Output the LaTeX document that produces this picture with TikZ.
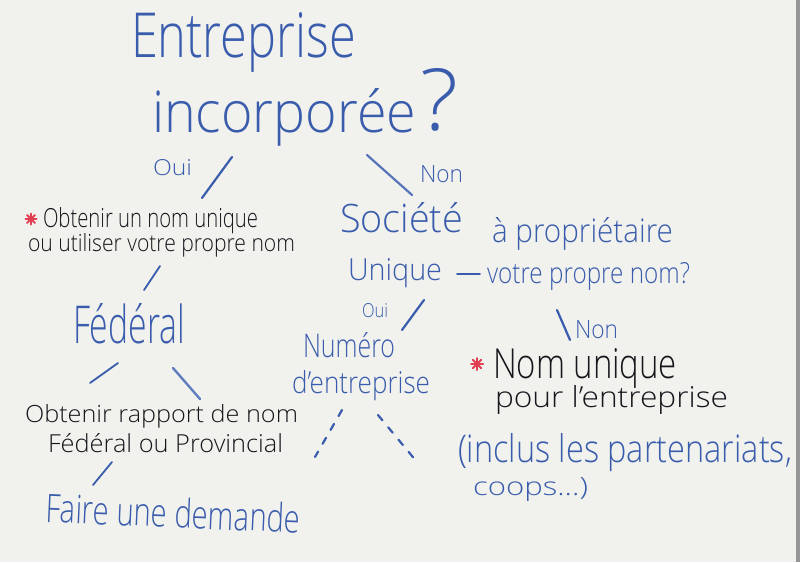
\documentclass[tikz,border=0pt]{standalone}
\usepackage{graphicx}
\usepackage{fontspec}
\IfFontExistsTF{Open Sans Light}{\setmainfont{Open Sans Light}}{\setmainfont{Open Sans}}
\definecolor{board}{RGB}{241,242,238}
\definecolor{frame}{RGB}{150,150,150}
\definecolor{inkblue}{RGB}{58,92,172}
\definecolor{inkblack}{RGB}{22,22,28}
\definecolor{inkred}{RGB}{226,62,82}
% \fitto{width}{height above baseline}{text}
\newcommand\fitto[3]{\resizebox{#1pt}{#2pt}{#3}}
\tikzset{
  handtext/.style={anchor=base west, inner sep=0pt, outer sep=0pt},
  bluetext/.style={handtext, text=inkblue},
  blacktext/.style={handtext, text=inkblack},
  stroke/.style={draw=inkblue, line width=2.2pt, line cap=round},
  dotted stroke/.style={stroke, dash pattern=on 7pt off 9pt},
  starmark/.style={draw=inkred, line width=2pt, line cap=round}
}
\begin{document}
\begin{tikzpicture}[x=1pt,y=-1pt]
  % board
  \fill[board] (0,0) rectangle (800,562);
  \fill[frame] (796,0) rectangle (800,562);
  \useasboundingbox (0,0) rectangle (800,562);

  % question at the top
  \node[bluetext] (q1) at (131,57) {\fitto{225}{45}{Entreprise}};
  \node[bluetext] (q2) at (152,132) {\fitto{264}{44}{incorporée}};
  \node[bluetext] (q2mark) at (420,130) {\fitto{38}{62}{?}};

  % yes branch
  \coordinate (c1a) at (232,157); \coordinate (c1b) at (202,198);
  \draw[stroke] (c1a) -- (c1b);
  \node[bluetext] (oui1) at (153,175) {\fitto{39}{16}{Oui}};

  \coordinate (ast1) at (31,219);
  \foreach \a in {0,45,90,135} \draw[starmark,shift={(ast1)}] (\a:5.5) -- (\a+180:5.5);
  \node[blacktext] (t3) at (43,227) {\fitto{215}{20}{Obtenir un nom unique}};
  \node[blacktext] (t4) at (28,251) {\fitto{267}{18}{ou utiliser votre propre nom}};

  \coordinate (c3a) at (160,266); \coordinate (c3b) at (144,290);
  \draw[stroke,line width=1.8pt] (c3a) -- (c3b);

  \node[bluetext] (fed) at (73,343) {\fitto{112}{40}{Fédéral}};

  \coordinate (c4a) at (118,363); \coordinate (c4b) at (90,383);
  \coordinate (c5a) at (173,368); \coordinate (c5b) at (200,399);
  \draw[stroke,line width=1.8pt] (c4a) -- (c4b);
  \draw[stroke,line width=2.4pt,draw=inkblue!80] (c5a) -- (c5b);

  \node[blacktext] (t6) at (25,422) {\fitto{273}{18}{Obtenir rapport de nom}};
  \node[blacktext] (t7) at (48,452) {\fitto{235}{19}{Fédéral ou Provincial}};

  \coordinate (c6a) at (112,462); \coordinate (c6b) at (93,485);
  \draw[stroke,line width=1.8pt] (c6a) -- (c6b);

  \node[bluetext,rotate=-2.5] (t8) at (45,522) {\fitto{255}{30}{Faire une demande}};

  % no branch
  \coordinate (c2a) at (367,155); \coordinate (c2b) at (412,195);
  \draw[stroke,draw=inkblue!85] (c2a) -- (c2b);
  \node[bluetext] (non1) at (420,182) {\fitto{43}{17}{Non}};

  \node[bluetext] (t9) at (340,232) {\fitto{123}{30}{Société}};
  \node[bluetext] (t10) at (492,242) {\fitto{181}{25}{à propriétaire}};
  \node[bluetext] (t11) at (348,280) {\fitto{94}{22}{Unique}};
  \coordinate (c7a) at (457,274); \coordinate (c7b) at (480,274);
  \draw[stroke,line width=1.8pt] (c7a) -- (c7b);
  \node[bluetext] (t12) at (487,283) {\fitto{203}{21}{votre propre nom?}};

  % sole proprietor: yes
  \coordinate (c8a) at (424,300); \coordinate (c8b) at (402,330);
  \draw[stroke] (c8a) -- (c8b);
  \node[bluetext] (oui2) at (362,317) {\fitto{26}{14}{Oui}};
  \node[bluetext] (t13) at (303,357) {\fitto{92}{25}{Numéro}};
  \node[bluetext] (t14) at (292,393) {\fitto{138}{23}{d'entreprise}};
  \coordinate (c10a) at (342,410); \coordinate (c10b) at (315,457);
  \coordinate (c11a) at (378,415); \coordinate (c11b) at (417,462);
  \draw[dotted stroke] (c10a) -- (c10b);
  \draw[dotted stroke] (c11a) -- (c11b);

  % sole proprietor: no
  \coordinate (c9a) at (557,310); \coordinate (c9b) at (570,340);
  \draw[stroke] (c9a) -- (c9b);
  \node[bluetext] (non2) at (575,338) {\fitto{43}{18}{Non}};

  \coordinate (ast2) at (477,364);
  \foreach \a in {0,45,90,135} \draw[starmark,shift={(ast2)}] (\a:6) -- (\a+180:6);
  \node[blacktext] (t15) at (493,378) {\fitto{184}{30}{Nom unique}};
  \node[blacktext] (t16) at (495,407) {\fitto{233}{22}{pour l'entreprise}};
  \node[bluetext] (t17) at (458,462) {\fitto{334}{29}{(inclus les partenariats,}};
  \node[bluetext] (t18) at (473,495) {\fitto{115}{18}{coops...)}};
\end{tikzpicture}
\end{document}
